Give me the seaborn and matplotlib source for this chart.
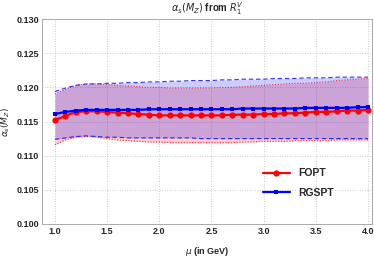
import numpy as np
import pandas as pd
import matplotlib
matplotlib.use('Agg')
import matplotlib.pyplot as plt
from matplotlib.ticker import MultipleLocator
import seaborn as sns

# data (mu = 1.0 ... 4.0 in steps of 0.1)
mu = [1.0, 1.1, 1.2, 1.3, 1.4, 1.5, 1.6, 1.7, 1.8, 1.9, 2.0,
      2.1, 2.2, 2.3, 2.4, 2.5, 2.6, 2.7, 2.8, 2.9, 3.0,
      3.1, 3.2, 3.3, 3.4, 3.5, 3.6, 3.7, 3.8, 3.9, 4.0]

fopt = [0.1152, 0.1158, 0.1164, 0.1165, 0.1165, 0.1164, 0.1163, 0.1162, 0.1161, 0.1160, 0.1159,
        0.1159, 0.1159, 0.1159, 0.1159, 0.1159, 0.1159, 0.1160, 0.1160, 0.1160, 0.1161,
        0.1161, 0.1162, 0.1162, 0.1163, 0.1164, 0.1164, 0.1165, 0.1166, 0.1166, 0.1167]
rgspt = [0.1161, 0.1164, 0.1166, 0.1167, 0.1167, 0.1167, 0.1167, 0.1167, 0.1167, 0.1168, 0.1168,
         0.1168, 0.1168, 0.1168, 0.1168, 0.1168, 0.1168, 0.1168, 0.1169, 0.1169, 0.1169,
         0.1169, 0.1169, 0.1169, 0.1170, 0.1170, 0.1170, 0.1170, 0.1170, 0.1171, 0.1171]

fopt_hi = [0.1190, 0.1197, 0.1203, 0.1205, 0.1205, 0.1204, 0.1203, 0.1202, 0.1201, 0.1200, 0.1200,
           0.1199, 0.1199, 0.1199, 0.1199, 0.1199, 0.1200, 0.1200, 0.1201, 0.1202, 0.1203,
           0.1204, 0.1205, 0.1206, 0.1206, 0.1207, 0.1208, 0.1210, 0.1211, 0.1212, 0.1213]
fopt_lo = [0.1116, 0.1123, 0.1127, 0.1128, 0.1127, 0.1125, 0.1123, 0.1122, 0.1121, 0.1120, 0.1120,
           0.1119, 0.1119, 0.1119, 0.1119, 0.1119, 0.1119, 0.1119, 0.1120, 0.1120, 0.1121,
           0.1121, 0.1121, 0.1122, 0.1122, 0.1122, 0.1122, 0.1123, 0.1123, 0.1123, 0.1123]
rgspt_hi = [0.1194, 0.1199, 0.1203, 0.1205, 0.1205, 0.1206, 0.1206, 0.1207, 0.1207, 0.1208, 0.1208,
            0.1209, 0.1209, 0.1210, 0.1210, 0.1210, 0.1211, 0.1211, 0.1212, 0.1212, 0.1212,
            0.1213, 0.1213, 0.1213, 0.1214, 0.1214, 0.1214, 0.1215, 0.1215, 0.1215, 0.1215]
rgspt_lo = [0.1124, 0.1126, 0.1128, 0.1129, 0.1128, 0.1127, 0.1127, 0.1126, 0.1126, 0.1126, 0.1126,
            0.1126, 0.1126, 0.1126, 0.1125, 0.1125, 0.1125, 0.1125, 0.1125, 0.1125, 0.1125,
            0.1125, 0.1125, 0.1125, 0.1125, 0.1125, 0.1125, 0.1125, 0.1125, 0.1125, 0.1125]

sns.set_style('white')
plt.rcParams['font.family'] = ['Liberation Sans', 'DejaVu Sans']
plt.rcParams['mathtext.fontset'] = 'dejavusans'

fig = plt.figure(figsize=(3.74, 2.58), dpi=100)
ax = fig.add_axes([0.112, 0.132, 0.883, 0.794])

# bands
ax.fill_between(mu, fopt_lo, fopt_hi, color='red', alpha=0.2, lw=0, zorder=1)
ax.fill_between(mu, rgspt_lo, rgspt_hi, color='blue', alpha=0.2, lw=0, zorder=1)
ax.plot(mu, fopt_hi, color='red', ls=(0, (1, 1.5)), lw=0.8, alpha=0.8, zorder=2)
ax.plot(mu, fopt_lo, color='red', ls=(0, (1, 1.5)), lw=0.8, alpha=0.8, zorder=2)
ax.plot(mu, rgspt_hi, color='blue', ls=(0, (4, 2.5)), lw=0.8, alpha=0.8, zorder=2)
ax.plot(mu, rgspt_lo, color='blue', ls=(0, (4, 2.5)), lw=0.8, alpha=0.8, zorder=2)

sns.lineplot(x=mu, y=fopt, color='red', marker='o', markersize=4.5,
             markeredgewidth=0, linewidth=1.6, label='FOPT', ax=ax, zorder=3)
sns.lineplot(x=mu, y=rgspt, color='blue', marker='s', markersize=3.3,
             markeredgewidth=0, linewidth=1.6, label='RGSPT', ax=ax, zorder=3)

ax.set_xlim(0.875, 4.04)
ax.set_ylim(0.100, 0.130)
ax.xaxis.set_major_locator(MultipleLocator(0.5))
ax.xaxis.set_minor_locator(MultipleLocator(0.1))
ax.yaxis.set_major_locator(MultipleLocator(0.005))
ax.yaxis.set_minor_locator(MultipleLocator(0.001))
ax.set_xticks(np.arange(1.0, 4.01, 0.5))
ax.set_xticklabels([f'{v:.1f}' for v in np.arange(1.0, 4.01, 0.5)])
ax.set_yticklabels([f'{v:.3f}' for v in ax.get_yticks()])
ax.tick_params(which='both', direction='in', color='#999999', labelsize=6.5, pad=2)
ax.tick_params(which='major', length=4, width=0.6)
ax.tick_params(which='minor', length=2, width=0.5)
for lab in ax.get_xticklabels() + ax.get_yticklabels():
    lab.set_fontweight('bold')
for s in ax.spines.values():
    s.set_color('#aaaaaa')
    s.set_linewidth(0.7)
ax.grid(True, which='major', ls=(0, (1, 2)), color='#bbbbbb', lw=0.6)
ax.set_axisbelow(True)

ax.set_title(r'$\alpha_s(M_Z)$ from $R_1^V$', fontsize=7, fontweight='bold', pad=5)
ax.set_xlabel(r'$\mu$ (in GeV)', fontsize=6.5, fontweight='bold', labelpad=7)
ax.set_ylabel(r'$\alpha_s(M_Z)$', fontsize=6.5, fontweight='bold', labelpad=3)

leg = ax.legend(loc='center left', bbox_to_anchor=(0.64, 0.20), frameon=False,
                handlelength=2.6, labelspacing=0.9, prop={'size': 7.5, 'weight': 'bold'})

fig.savefig('out.png', dpi=100)
